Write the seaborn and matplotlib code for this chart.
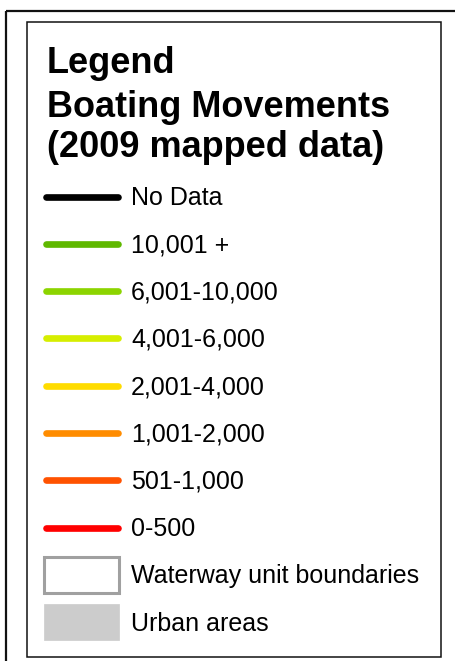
import numpy as np
import pandas as pd
import matplotlib.pyplot as plt
from matplotlib.patches import Rectangle
import seaborn as sns

# legend content
title_lines = ['Legend', 'Boating Movements', '(2009 mapped data)']
line_labels = ['No Data', '10,001 +', '6,001-10,000', '4,001-6,000',
               '2,001-4,000', '1,001-2,000', '501-1,000', '0-500']
line_colors = ['#000000', '#5fb800', '#8cd400', '#d6ee00',
               '#ffdc00', '#ff8c00', '#ff5200', '#ff0000']
area_labels = ['Waterway unit boundaries', 'Urban areas']
area_faces = ['#ffffff', '#cccccc']
area_edges = ['#a0a0a0', '#cccccc']

sns.set_style('white')
plt.rcParams['font.family'] = ['Liberation Sans', 'DejaVu Sans']
plt.rcParams['text.color'] = 'black'

W, H = 455, 661
fig = plt.figure(figsize=(W / 100, H / 100), dpi=100)
fig.patch.set_facecolor('white')

# main axes in pixel units for the frames and the title
ax = fig.add_axes([0, 0, 1, 1])
ax.set_xlim(0, W)
ax.set_ylim(H, 0)
ax.axis('off')

ax.add_patch(Rectangle((6, 11), 470, 670, fill=False, edgecolor='#111111', lw=1.6))
ax.add_patch(Rectangle((27, 22), 414, 635, fill=False, edgecolor='#111111', lw=1.1))

title_baselines = [73, 117, 157]
for txt, yb in zip(title_lines, title_baselines):
    ax.text(47, yb, txt, fontsize=26, fontweight='bold', va='baseline', ha='left')

# rows axes: y = row index
row0, step = 196.5, 47.3
n_rows = len(line_labels) + len(area_labels)
top_px = row0 - step / 2
bot_px = row0 + (n_rows - 0.5) * step
rax = fig.add_axes([0, 1 - bot_px / H, 1, (bot_px - top_px) / H])
rax.patch.set_alpha(0)

df = pd.DataFrame({
    'x': np.tile([45.5, 117.5], len(line_labels)),
    'row': np.repeat(np.arange(len(line_labels)), 2),
    'label': np.repeat(line_labels, 2),
})
sns.lineplot(data=df, x='x', y='row', hue='label', units='label', estimator=None,
             palette=dict(zip(line_labels, line_colors)), legend=False,
             lw=4.8, solid_capstyle='round', ax=rax)
rax.set_xlim(0, W)
rax.set_ylim(n_rows - 0.5, -0.5)
rax.axis('off')

for i, lab in enumerate(line_labels):
    rax.text(131, i + 0.03, lab, fontsize=18, va='center', ha='left')

box_h = 36 / step
for j, (lab, fc, ec) in enumerate(zip(area_labels, area_faces, area_edges)):
    r = len(line_labels) + j
    rax.add_patch(Rectangle((44, r - box_h / 2), 75, box_h, facecolor=fc,
                            edgecolor=ec, lw=2.2 if j == 0 else 0.5))
    rax.text(131, r + 0.03, lab, fontsize=18, va='center', ha='left')

fig.savefig('out.png', dpi=100)
